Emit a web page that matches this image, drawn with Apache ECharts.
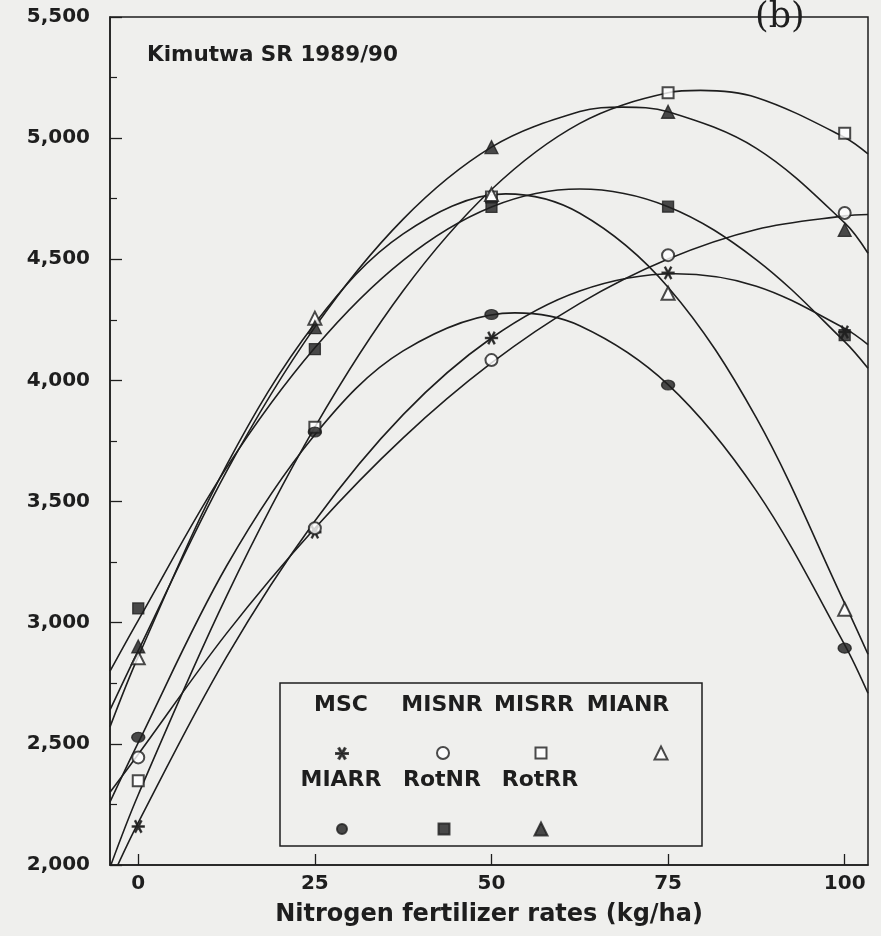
<!DOCTYPE html>
<html>
<head>
<meta charset="utf-8">
<script src="https://cdn.jsdelivr.net/npm/echarts/dist/echarts.min.js"></script>
<style>
html,body{margin:0;padding:0;background:#efefed;}
#chart{width:881px;height:936px;}
</style>
</head>
<body>
<div id="chart"></div>
<script>
// ---------- data ----------
const xTicks = [0, 25, 50, 75, 100];
const seriesNames = ['MSC', 'MISNR', 'MISRR', 'MIANR', 'MIARR', 'RotNR', 'RotRR'];

// observed yields (markers) at N = 0, 25, 50, 75, 100 kg/ha
const obsMSC   = [2159, 3374, 4175, 4444, 4200];
const obsMISNR = [2444, 3390, 4084, 4517, 4691];
const obsMISRR = [2348, 3807, 4757, 5187, 5020];
const obsMIANR = [2855, 4257, 4767, 4360, 3056];
const obsMIARR = [2527, 3787, 4272, 3981, 2895];
const obsRotNR = [3059, 4129, 4716, 4717, 4187];
const obsRotRR = [2902, 4220, 4963, 5109, 4621];

// fitted response curves (x, yield)
const xMSC   = [-4, 0, 12.5, 25, 37.5, 50, 62.5, 76, 87.5, 100, 103.3];
const fitMSC = [1930, 2175, 2859, 3420, 3859, 4175, 4369, 4440, 4389, 4215, 4148];
const xMISNR   = [-4, 0, 12.5, 25, 37.5, 50, 62.5, 75, 87.5, 100, 103.3];
const fitMISNR = [2300, 2457, 2956, 3390, 3763, 4072, 4318, 4501, 4623, 4679, 4685];
const xMISRR   = [-4, 0, 12.5, 25, 37.5, 50, 62.5, 75, 79.6, 87.5, 100, 103.3];
const fitMISRR = [1990, 2290, 3110, 3807, 4370, 4788, 5061, 5187, 5197, 5168, 5003, 4935];
const xMIANR   = [-4, 0, 12.5, 25, 37.5, 52, 62.5, 75, 87.5, 100, 103.3];
const fitMIANR = [2570, 2860, 3650, 4235, 4605, 4770, 4690, 4385, 3845, 3080, 2870];
const xMIARR   = [-4, 0, 12.5, 25, 37.5, 53.3, 62.5, 75, 87.5, 100, 103.3];
const fitMIARR = [2260, 2505, 3234, 3776, 4122, 4279, 4226, 3983, 3544, 2909, 2709];
const xRotNR   = [-4, 0, 12.5, 25, 37.5, 50, 62.5, 75, 87.5, 100, 103.3];
const fitRotNR = [2800, 3010, 3640, 4135, 4496, 4716, 4790, 4717, 4498, 4160, 4050];
const xRotRR   = [-4, 0, 12.5, 25, 37.5, 50, 62.5, 68.6, 75, 87.5, 100, 103.3];
const fitRotRR = [2640, 2885, 3625, 4220, 4666, 4963, 5110, 5128, 5109, 4958, 4650, 4525];

const obs = [obsMSC, obsMISNR, obsMISRR, obsMIANR, obsMIARR, obsRotNR, obsRotRR];
const fitX = [xMSC, xMISNR, xMISRR, xMIANR, xMIARR, xRotNR, xRotRR];
const fits = [fitMSC, fitMISNR, fitMISRR, fitMIANR, fitMIARR, fitRotNR, fitRotRR];

// ---------- styles ----------
const INK = '#1e1e1e';
const SANS = 'DejaVu Sans';
const asterisk = 'path://M-6,-0.6 L6,-0.6 L6,0.6 L-6,0.6 Z M-3.52,-4.9 L-2.48,-5.5 L3.52,4.9 L2.48,5.5 Z M-2.48,5.5 L-3.52,4.9 L2.48,-5.5 L3.52,-4.9 Z';
const symbols = [asterisk, 'emptyCircle', 'emptyRect', 'emptyTriangle', 'circle', 'rect', 'triangle'];
const symSizes = [12, 12, 11, 13, [13, 10], 11, 13];
// legend layout: [textCx, textCy, iconCx, iconCy]
const legendLayout = [
  [341, 705, 341, 753], [442, 705, 442, 752], [534, 705, 540, 752], [628, 705, 660, 752],
  [341, 780, 342, 828], [442, 780, 443, 828], [540, 780, 540, 828]
];

const series = [];
seriesNames.forEach((name, i) => {
  series.push({
    name: name + ' fit',
    type: 'line',
    data: fitX[i].map((x, k) => [x, fits[i][k]]),
    showSymbol: false,
    smooth: 0.35,
    silent: true,
    clip: true,
    lineStyle: { color: INK, width: 1.6 },
    z: 2
  });
  series.push({
    name: name,
    type: 'scatter',
    data: xTicks.map((x, k) => [x, obs[i][k]]),
    symbol: symbols[i],
    symbolSize: symSizes[i],
    itemStyle: { color: INK, borderColor: INK, borderWidth: 1.3 },
    z: 3
  });
});

const legends = seriesNames.map((name, i) => {
  const s = Array.isArray(symSizes[i]) ? symSizes[i] : [symSizes[i], symSizes[i]];
  return {
    data: [name],
    left: legendLayout[i][2] - s[0] / 2,
    top: legendLayout[i][3] - s[1] / 2,
    itemWidth: s[0],
    itemHeight: s[1],
    padding: 0,
    itemGap: 0,
    selectedMode: false,
    formatter: () => '',
    textStyle: { fontSize: 1 }
  };
});

const graphics = [{
  type: 'rect',
  shape: { x: 280, y: 683, width: 422, height: 163 },
  style: { fill: 'rgba(0,0,0,0)', stroke: INK, lineWidth: 1.5 },
  z: 10
}];
seriesNames.forEach((name, i) => {
  graphics.push({
    type: 'text',
    x: legendLayout[i][0],
    y: legendLayout[i][1],
    style: { text: name, font: 'bold 22px "' + SANS + '"', fill: INK, align: 'center', verticalAlign: 'middle' },
    z: 10
  });
});

const chart = echarts.init(document.getElementById('chart'), null, { renderer: 'canvas' });
chart.setOption({
  backgroundColor: '#efefed',
  animation: false,
  title: [
    { text: 'Kimutwa SR 1989/90', left: 147, top: 44, padding: 0,
      textStyle: { fontFamily: SANS, fontSize: 21.5, fontWeight: 'bold', color: INK } },
    { text: '(b)', left: 755, top: 0, padding: 0,
      textStyle: { fontFamily: 'DejaVu Serif', fontSize: 35, fontWeight: 'normal', color: INK } }
  ],
  grid: { left: 110, right: 13, top: 17, bottom: 71, show: true, borderColor: INK, borderWidth: 1.5,
    backgroundColor: 'transparent', outerBoundsMode: 'none', containLabel: false },
  xAxis: {
    type: 'value', min: -4, max: 103.3,
    name: 'Nitrogen fertilizer rates (kg/ha)', nameLocation: 'middle', nameGap: 38, nameMoveOverlap: false,
    nameTextStyle: { fontFamily: SANS, fontSize: 24, fontWeight: 'bold', color: INK },
    axisLine: { show: true, onZero: false, lineStyle: { color: INK, width: 1.5 } },
    axisTick: { show: true, inside: true, length: 11, customValues: xTicks, lineStyle: { color: INK, width: 1.3 } },
    axisLabel: { customValues: xTicks, margin: 9, fontFamily: SANS, fontSize: 20, fontWeight: 'bold', color: INK },
    splitLine: { show: false }
  },
  yAxis: {
    type: 'value', min: 2000, max: 5500, interval: 500,
    axisLine: { show: true, onZero: false, lineStyle: { color: INK, width: 1.5 } },
    axisTick: { show: true, inside: true, length: 12, lineStyle: { color: INK, width: 1.3 } },
    minorTick: { show: true, splitNumber: 2, length: 7, lineStyle: { color: INK, width: 1.2 } },
    axisLabel: { margin: 20, fontFamily: SANS, fontSize: 20, fontWeight: 'bold', color: INK,
      formatter: v => v.toLocaleString('en-US') },
    splitLine: { show: false }
  },
  legend: legends,
  graphic: graphics,
  series: series
});
</script>
</body>
</html>
